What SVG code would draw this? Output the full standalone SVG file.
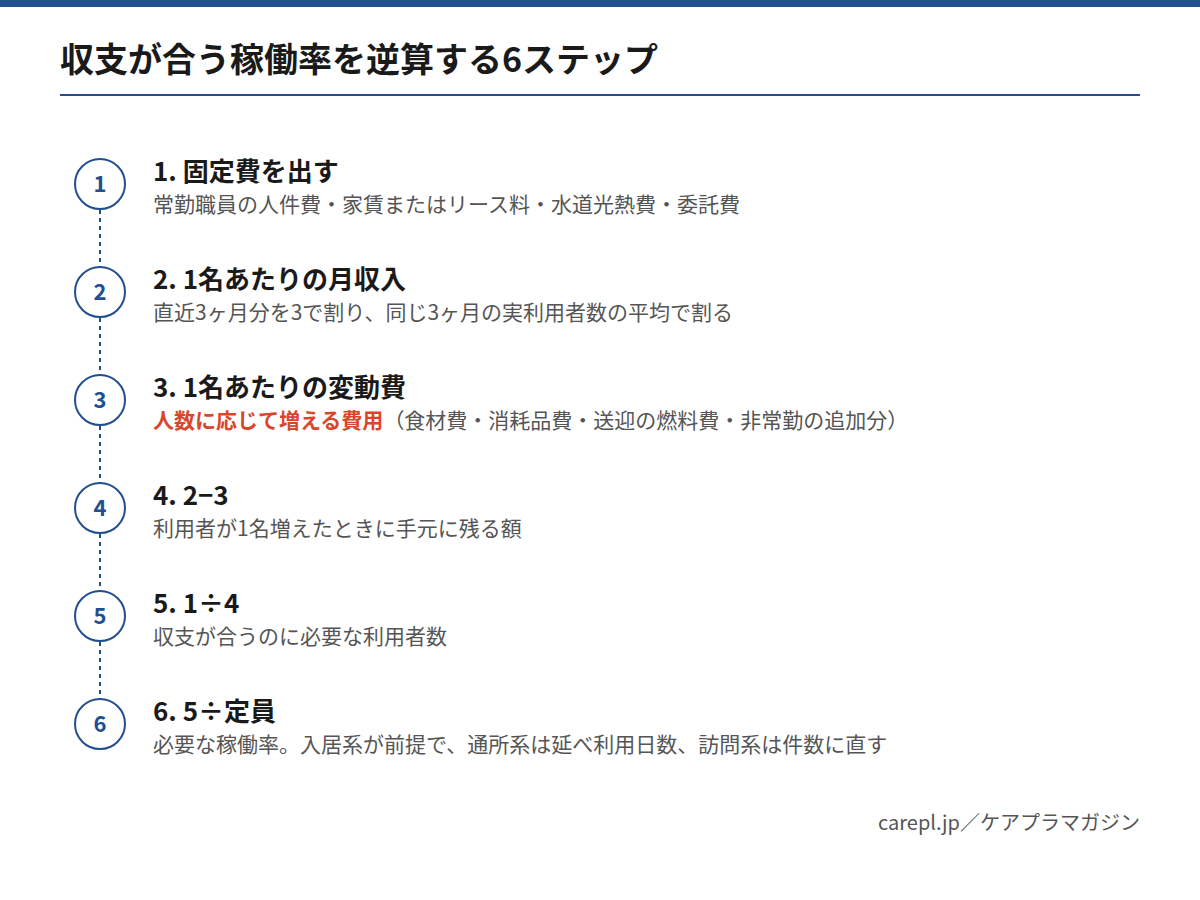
<svg xmlns="http://www.w3.org/2000/svg" width="1200" height="900" viewBox="0 0 1200 900">
<style>
text{font-family:"Noto Sans CJK JP","Noto Sans",sans-serif}
.title{font-size:34px;font-weight:700;fill:#1a1a1a}
.h{font-size:26px;font-weight:700;fill:#1a1a1a}
.d{font-size:21px;fill:#555555}
.f{font-size:20px;fill:#555555}
.red{fill:#d9472b;font-weight:700}
.num{font-size:22px;font-weight:700;fill:#234e8f;text-anchor:middle}
.c{fill:#ffffff;stroke:#234e8f;stroke-width:2}
.dot{stroke:#234e8f;stroke-width:2;stroke-dasharray:4 4;fill:none}
</style>
<rect x="0" y="0" width="1200" height="900" fill="#ffffff"/>
<rect x="0" y="0" width="1200" height="7" fill="#234e8f"/>
<text class="title" x="60" y="72">収支が合う稼働率を逆算する6ステップ</text>
<rect x="60" y="94" width="1080" height="2" fill="#234e8f"/>
<g id="connectors">
<line class="dot" x1="100" y1="210" x2="100" y2="267"/>
<line class="dot" x1="100" y1="318" x2="100" y2="375"/>
<line class="dot" x1="100" y1="426" x2="100" y2="483"/>
<line class="dot" x1="100" y1="534" x2="100" y2="591"/>
<line class="dot" x1="100" y1="642" x2="100" y2="699"/>
</g>
<g id="step1">
<circle class="c" cx="100" cy="184" r="25"/>
<text class="num" x="100" y="192">1</text>
<text class="h" x="153" y="181">1. 固定費を出す</text>
<text class="d" x="153" y="212">常勤職員の人件費・家賃またはリース料・水道光熱費・委託費</text>
</g>
<g id="step2">
<circle class="c" cx="100" cy="292" r="25"/>
<text class="num" x="100" y="300">2</text>
<text class="h" x="153" y="289">2. 1名あたりの月収入</text>
<text class="d" x="153" y="320">直近3ヶ月分を3で割り、同じ3ヶ月の実利用者数の平均で割る</text>
</g>
<g id="step3">
<circle class="c" cx="100" cy="400" r="25"/>
<text class="num" x="100" y="408">3</text>
<text class="h" x="153" y="397">3. 1名あたりの変動費</text>
<text class="d" x="153" y="428"><tspan class="red">人数に応じて増える費用</tspan>（食材費・消耗品費・送迎の燃料費・非常勤の追加分）</text>
</g>
<g id="step4">
<circle class="c" cx="100" cy="508" r="25"/>
<text class="num" x="100" y="516">4</text>
<text class="h" x="153" y="505">4. 2−3</text>
<text class="d" x="153" y="536">利用者が1名増えたときに手元に残る額</text>
</g>
<g id="step5">
<circle class="c" cx="100" cy="616" r="25"/>
<text class="num" x="100" y="624">5</text>
<text class="h" x="153" y="613">5. 1÷4</text>
<text class="d" x="153" y="644">収支が合うのに必要な利用者数</text>
</g>
<g id="step6">
<circle class="c" cx="100" cy="724" r="25"/>
<text class="num" x="100" y="732">6</text>
<text class="h" x="153" y="721">6. 5÷定員</text>
<text class="d" x="153" y="752">必要な稼働率。入居系が前提で、通所系は延べ利用日数、訪問系は件数に直す</text>
</g>
<text class="f" x="1140" y="830" text-anchor="end">carepl.jp／ケアプラマガジン</text>
</svg>
